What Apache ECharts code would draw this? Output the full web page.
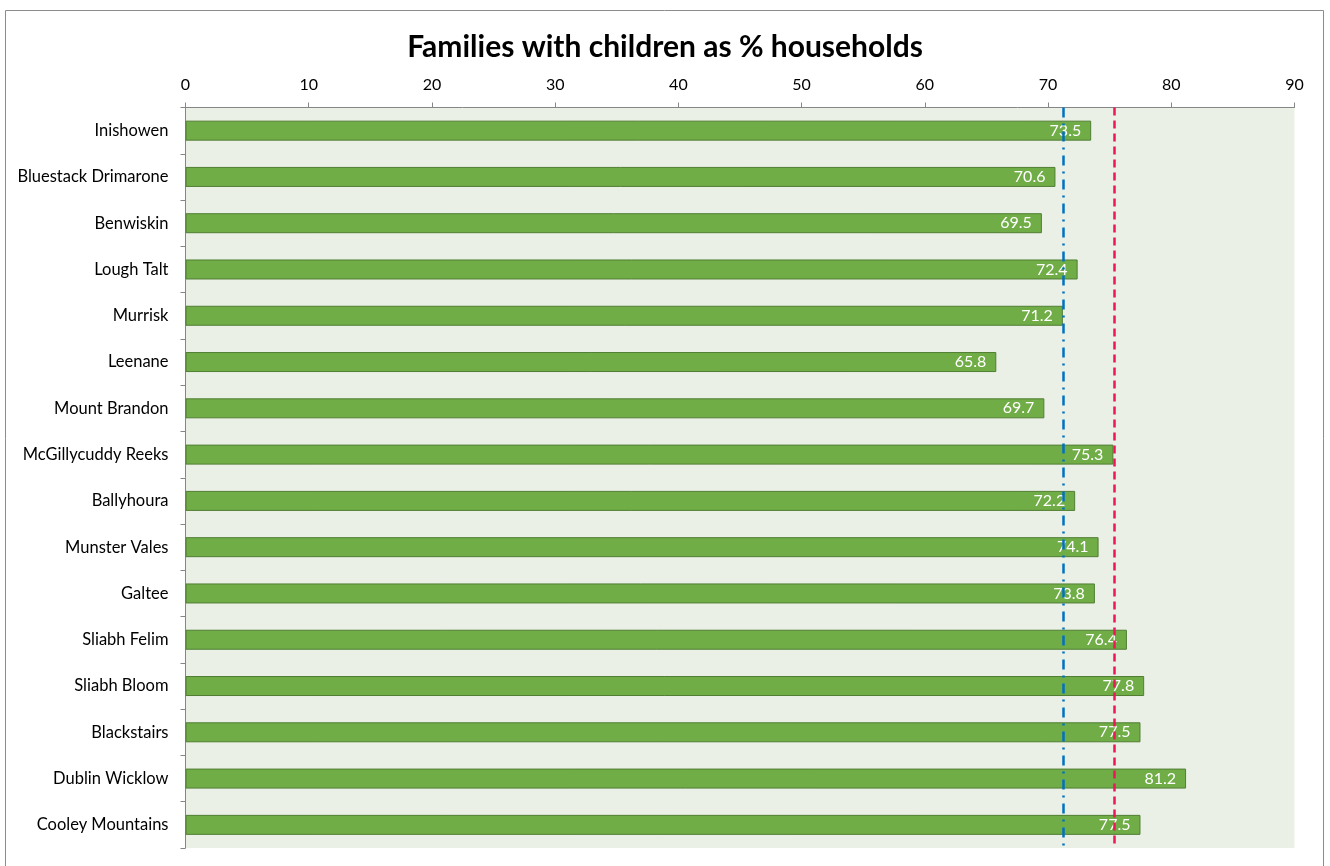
<!DOCTYPE html>
<html>
<head>
<meta charset="utf-8">
<title>Families with children as % households</title>
<script src="https://cdn.jsdelivr.net/npm/echarts@6/dist/echarts.min.js"></script>
<style>
  html, body { margin: 0; padding: 0; background: #fff; }
  #chart { width: 1330px; height: 866px; }
</style>
</head>
<body>
<div id="chart"></div>
<script>
// areas, top to bottom
var areas = ['Inishowen', 'Bluestack Drimarone', 'Benwiskin', 'Lough Talt', 'Murrisk', 'Leenane',
  'Mount Brandon', 'McGillycuddy Reeks', 'Ballyhoura', 'Munster Vales', 'Galtee', 'Sliabh Felim',
  'Sliabh Bloom', 'Blackstairs', 'Dublin Wicklow', 'Cooley Mountains'];
var pctFamilies = [73.5, 70.6, 69.5, 72.4, 71.2, 65.8, 69.7, 75.3, 72.2, 74.1, 73.8, 76.4, 77.8, 77.5, 81.2, 77.5];

// reference lines (blue dash-dot, red dashed)
var blueRef = 71.2;
var redRef = 75.4;

var fontName = 'Lato, "Open Sans", sans-serif';

var chart = echarts.init(document.getElementById('chart'));
var option = {
  animation: false,
  title: {
    text: 'Families with children as % households',
    left: 'center',
    top: 27,
    textStyle: { fontFamily: fontName, fontSize: 30, fontWeight: 'bold', color: '#000' }
  },
  graphic: [{
    type: 'rect',
    shape: { x: 5.5, y: 10.5, width: 1318, height: 870 },
    style: { fill: 'none', stroke: '#8c8c8c', lineWidth: 1 },
    silent: true
  }],
  grid: { left: 185.5, right: 35.5, top: 107.5, bottom: 18, containLabel: false },
  xAxis: {
    type: 'value',
    position: 'top',
    min: 0,
    max: 90,
    interval: 10,
    splitLine: { show: false },
    splitArea: { show: true, areaStyle: { color: ['#ebf0e7', '#ebf0e7'] } },
    axisLine: { show: true, lineStyle: { color: '#868686' } },
    axisTick: { show: true, length: 5, lineStyle: { color: '#868686' } },
    axisLabel: { fontFamily: fontName, fontSize: 16, color: '#000', margin: 15 }
  },
  yAxis: {
    type: 'category',
    data: areas,
    inverse: true,
    axisLine: { show: true, lineStyle: { color: '#868686' } },
    axisTick: { show: true, length: 5, lineStyle: { color: '#868686' } },
    axisLabel: { fontFamily: fontName, fontSize: 16.5, color: '#000', margin: 17 }
  },
  series: [{
    type: 'bar',
    data: pctFamilies,
    barWidth: 20,
    itemStyle: { color: '#70ad47', borderColor: '#507e32', borderWidth: 1 },
    label: {
      show: true,
      position: 'insideRight',
      distance: 10,
      color: '#fff',
      fontFamily: fontName,
      fontSize: 16
    },
    markLine: {
      silent: true,
      symbol: 'none',
      label: { show: false },
      data: [
        { xAxis: blueRef, lineStyle: { color: '#0070c0', width: 2.5, type: [10, 6, 2, 6] } },
        { xAxis: redRef, lineStyle: { color: '#f0145a', width: 2.5, type: [8, 5] } }
      ]
    }
  }]
};
chart.setOption(option);
</script>
</body>
</html>
